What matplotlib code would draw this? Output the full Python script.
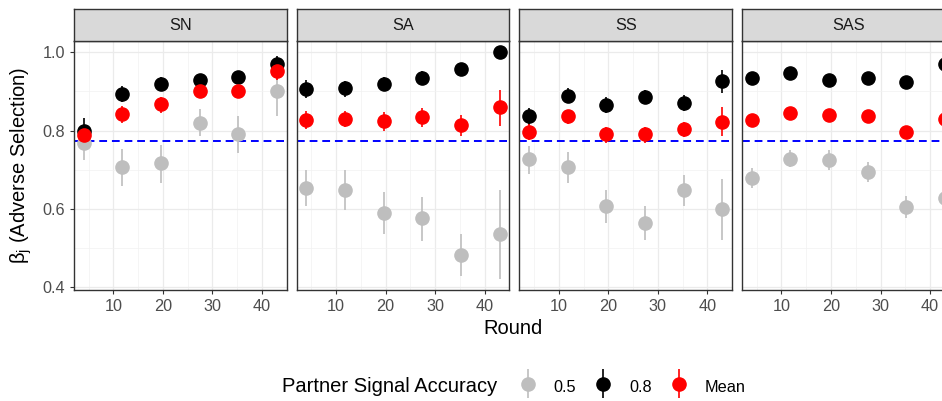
import matplotlib.pyplot as plt
import numpy as np
from matplotlib.container import ErrorbarContainer
from matplotlib.legend_handler import HandlerErrorbar

plt.rcParams["font.family"] = ["Liberation Sans", "DejaVu Sans"]
plt.rcParams["mathtext.fontset"] = "custom"
plt.rcParams["mathtext.rm"] = "Liberation Sans"
plt.rcParams["mathtext.it"] = "Liberation Sans"

# ── Data ──────────────────────────────────────────────────────────────────────
panels = ["SN", "SA", "SS", "SAS"]
rounds = [4, 11.8, 19.6, 27.4, 35.2, 43]
baseline = 0.773
series_labels = ["0.5", "0.8", "Mean"]

# partner signal accuracy 0.5
acc05_mean = [[0.769, 0.706, 0.716, 0.820, 0.791, 0.900],
              [0.653, 0.649, 0.589, 0.575, 0.482, 0.534],
              [0.727, 0.706, 0.606, 0.563, 0.647, 0.599],
              [0.678, 0.728, 0.725, 0.694, 0.604, 0.627]]
acc05_lo = [[0.725, 0.657, 0.667, 0.785, 0.742, 0.836],
            [0.606, 0.597, 0.534, 0.518, 0.427, 0.419],
            [0.689, 0.667, 0.563, 0.519, 0.608, 0.521],
            [0.653, 0.706, 0.700, 0.669, 0.576, 0.602]]
acc05_hi = [[0.797, 0.753, 0.763, 0.856, 0.838, 0.959],
            [0.698, 0.698, 0.643, 0.631, 0.536, 0.649],
            [0.761, 0.746, 0.649, 0.608, 0.685, 0.677],
            [0.704, 0.751, 0.751, 0.719, 0.633, 0.652]]

# partner signal accuracy 0.8
acc08_mean = [[0.799, 0.894, 0.918, 0.929, 0.936, 0.969],
              [0.906, 0.908, 0.920, 0.934, 0.958, 1.002],
              [0.836, 0.889, 0.866, 0.886, 0.870, 0.927],
              [0.934, 0.948, 0.929, 0.934, 0.924, 0.969]]
acc08_lo = [[0.767, 0.873, 0.902, 0.914, 0.923, 0.953],
            [0.882, 0.887, 0.904, 0.916, 0.945, 0.989],
            [0.814, 0.870, 0.844, 0.868, 0.849, 0.895],
            [0.921, 0.936, 0.917, 0.922, 0.911, 0.956]]
acc08_hi = [[0.831, 0.914, 0.936, 0.942, 0.946, 0.991],
            [0.928, 0.927, 0.936, 0.953, 0.972, 1.014],
            [0.857, 0.908, 0.885, 0.904, 0.891, 0.955],
            [0.946, 0.959, 0.941, 0.946, 0.936, 0.982]]

# mean over accuracies
avg_mean = [[0.789, 0.841, 0.867, 0.900, 0.900, 0.953],
            [0.828, 0.830, 0.824, 0.834, 0.813, 0.859],
            [0.797, 0.836, 0.791, 0.791, 0.803, 0.821],
            [0.826, 0.846, 0.840, 0.837, 0.795, 0.830]]
avg_lo = [[0.772, 0.819, 0.846, 0.885, 0.887, 0.929],
          [0.803, 0.808, 0.800, 0.810, 0.786, 0.812],
          [0.776, 0.817, 0.769, 0.769, 0.783, 0.785],
          [0.812, 0.832, 0.826, 0.823, 0.779, 0.816]]
avg_hi = [[0.806, 0.863, 0.887, 0.917, 0.914, 0.972],
          [0.851, 0.851, 0.847, 0.857, 0.840, 0.904],
          [0.817, 0.853, 0.810, 0.810, 0.823, 0.859],
          [0.840, 0.860, 0.854, 0.851, 0.811, 0.844]]

series = [(acc05_mean, acc05_lo, acc05_hi, "#BEBEBE"),
          (acc08_mean, acc08_lo, acc08_hi, "black"),
          (avg_mean, avg_lo, avg_hi, "red")]

SMALL = 11.7
BIG = 14.5

# ── Layout (pixel based, figure is 942 x 401) ────────────────────────────────
W, H = 942, 401
fig = plt.figure(figsize=(W / 100, H / 100), dpi=100)

p_left, p_w, p_gap = 74, 212.5, 10.2
p_top, p_bot = 41, 290
strip_top = 9

handles = None
for i, name in enumerate(panels):
    x0 = p_left + i * (p_w + p_gap)
    ax = fig.add_axes([x0 / W, (H - p_bot) / H, p_w / W, (p_bot - p_top) / H])
    ax.set_xlim(2.05, 44.95)
    ax.set_ylim(0.392, 1.029)
    ax.set_xticks([10, 20, 30, 40])
    ax.set_xticks([5, 15, 25, 35], minor=True)
    ax.set_yticks([0.4, 0.6, 0.8, 1.0])
    ax.set_yticks([0.5, 0.7, 0.9], minor=True)
    ax.grid(which="major", color="#EBEBEB", lw=0.9)
    ax.grid(which="minor", color="#F2F2F2", lw=0.5)
    ax.set_axisbelow(True)
    for s in ax.spines.values():
        s.set_color("#333333")
        s.set_linewidth(1.0)
    ax.tick_params(which="minor", length=0)
    ax.tick_params(which="major", length=3, width=0.8, color="#333333",
                   labelsize=SMALL, labelcolor="#4D4D4D")
    ax.tick_params(axis="y", pad=3.5)
    ax.tick_params(axis="x", pad=3.5)
    if i == 0:
        ax.set_yticklabels(["0.4", "0.6", "0.8", "1.0"])
    else:
        ax.tick_params(axis="y", left=False, labelleft=False)

    ax.axhline(baseline, color="blue", lw=1.4, ls=(0, (4, 2.5)), zorder=1)

    hs = []
    for mean, lo, hi, col in series:
        m = np.array(mean[i])
        err = [m - np.array(lo[i]), np.array(hi[i]) - m]
        h = ax.errorbar(rounds, m, yerr=err, fmt="o", color=col, ms=9.5,
                        elinewidth=1.2, capsize=0, mec=col, zorder=3)
        hs.append(h)
    if handles is None:
        handles = hs

    # strip on top
    sax = fig.add_axes([x0 / W, (H - p_top) / H, p_w / W, (p_top - strip_top) / H])
    sax.set_facecolor("#D9D9D9")
    sax.set_xticks([])
    sax.set_yticks([])
    for s in sax.spines.values():
        s.set_color("#333333")
        s.set_linewidth(1.0)
    sax.text(0.5, 0.5, name, ha="center", va="center", fontsize=SMALL,
             color="#1A1A1A", transform=sax.transAxes)

fig.text(513 / W, (H - 329) / H, "Round", ha="center", va="center", fontsize=BIG)
fig.text(21 / W, (H - 165) / H, r"β$_\mathrm{j}$ (Adverse Selection)",
         ha="center", va="center", rotation=90, fontsize=BIG)

fig.text(282 / W, (H - 386) / H, "Partner Signal Accuracy", ha="left",
         va="center", fontsize=BIG)
fig.legend(handles, series_labels, ncol=3, loc="center left",
           bbox_to_anchor=(518 / W, (H - 387) / H), frameon=False,
           fontsize=SMALL, handlelength=1.2, handletextpad=1.0,
           columnspacing=1.06, handleheight=1.8, borderpad=0,
           borderaxespad=0,
           handler_map={ErrorbarContainer: HandlerErrorbar(xerr_size=0.9,
                                                           yerr_size=0.9)})

fig.savefig("out.png", dpi=100)
